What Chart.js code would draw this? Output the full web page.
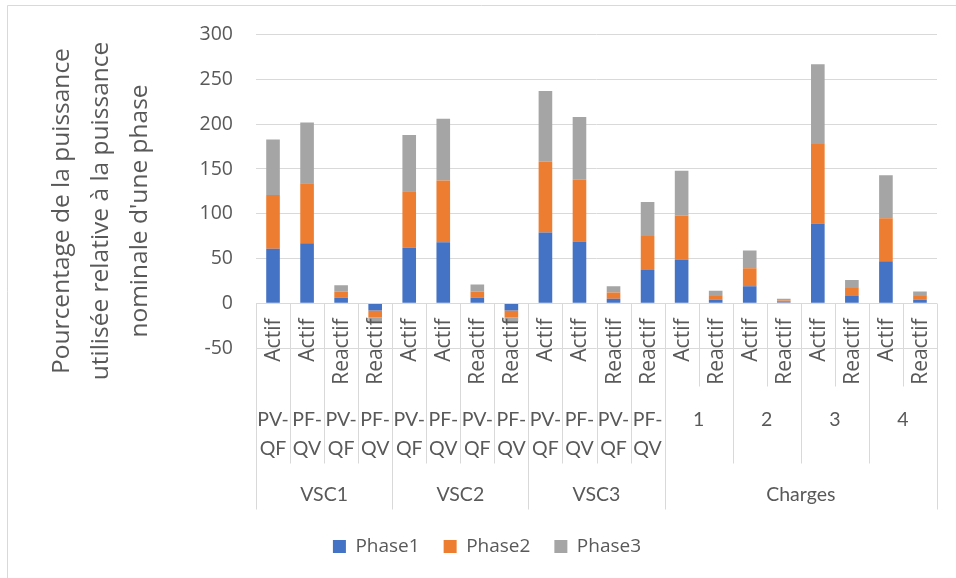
<!DOCTYPE html>
<html>
<head>
<meta charset="utf-8">
<script src="https://cdn.jsdelivr.net/npm/chart.js@4.4.1/dist/chart.umd.min.js"></script>
<style>
  html, body { margin: 0; padding: 0; background: #fff; }
  #wrap { width: 956px; height: 578px; }
</style>
</head>
<body>
<div id="wrap"><canvas id="chart" width="956" height="578"></canvas></div>
<script>
// categories (first level of the axis)
var categories = ['Actif', 'Actif', 'Reactif', 'Reactif',
  'Actif', 'Actif', 'Reactif', 'Reactif',
  'Actif', 'Actif', 'Reactif', 'Reactif',
  'Actif', 'Reactif', 'Actif', 'Reactif', 'Actif', 'Reactif', 'Actif', 'Reactif'];

// second level
var level2Labels = [['PV-', 'QF'], ['PF-', 'QV'], ['PV-', 'QF'], ['PF-', 'QV'],
  ['PV-', 'QF'], ['PF-', 'QV'], ['PV-', 'QF'], ['PF-', 'QV'],
  ['PV-', 'QF'], ['PF-', 'QV'], ['PV-', 'QF'], ['PF-', 'QV'],
  ['1'], ['2'], ['3'], ['4']];
var level2Spans = [1, 1, 1, 1, 1, 1, 1, 1, 1, 1, 1, 1, 2, 2, 2, 2];

// third level
var level3Labels = ['VSC1', 'VSC2', 'VSC3', 'Charges'];
var level3Spans = [4, 4, 4, 8];

var phase1 = [61, 67, 6, -8, 62, 68, 6, -8, 79, 69, 5, 37, 49, 4, 19, 1, 89, 8, 47, 4];
var phase2 = [60, 67, 7, -8, 63, 69, 7, -8, 79, 69, 7, 38, 49, 4, 20, 2, 89, 9, 48, 4];
var phase3 = [62, 68, 7, -6, 63, 69, 8, -5, 79, 70, 7, 38, 50, 6, 20, 2, 89, 9, 48, 5];

var yTitle = ['Pourcentage de la puissance', 'utilisée relative à la puissance', "nominale d'une phase"];

var textColor = '#595959';
var lineColor = '#d9d9d9';
var segoe = '"Open Sans", sans-serif';
var calibri = 'Lato, sans-serif';

// draws the frame, the y title and the 3-level category table
var tablePlugin = {
  id: 'table',
  beforeDraw: function(chart) {
    var ctx = chart.ctx;
    ctx.save();
    ctx.strokeStyle = lineColor;
    ctx.lineWidth = 1;
    ctx.beginPath();
    ctx.moveTo(7.5, 578);
    ctx.lineTo(7.5, 5.5);
    ctx.lineTo(956, 5.5);
    ctx.stroke();

    // y axis title
    ctx.fillStyle = textColor;
    ctx.font = '24.5px ' + segoe;
    ctx.textAlign = 'center';
    ctx.textBaseline = 'middle';
    ctx.translate(101, 211);
    ctx.rotate(-Math.PI / 2);
    for (var i = 0; i < yTitle.length; i++) {
      ctx.fillText(yTitle[i], 0, (i - 1) * 39);
    }
    ctx.restore();
  },
  afterDatasetsDraw: function(chart) {
    var ctx = chart.ctx;
    var x = chart.scales.x;
    var y = chart.scales.y;
    var area = chart.chartArea;
    var colW = (area.right - area.left) / categories.length;
    var y0 = Math.round(y.getPixelForValue(0)) + 0.5;
    var row1 = y0 + 83, row2 = y0 + 160, row3 = y0 + 206;

    function edge(i) { return Math.round(x.getPixelForValue(i) - colW / 2) + 0.5; }
    function vline(px, bottom) {
      ctx.beginPath();
      ctx.moveTo(px, y0);
      ctx.lineTo(px, bottom);
      ctx.stroke();
    }

    ctx.save();
    ctx.strokeStyle = lineColor;
    ctx.lineWidth = 1;
    ctx.beginPath();
    ctx.moveTo(area.left, y0);
    ctx.lineTo(area.right, y0);
    ctx.stroke();

    // separators, depth depends on the level they close
    var l2Edges = {}, l3Edges = {};
    var k = 0;
    level2Spans.forEach(function(s) { l2Edges[k] = true; k += s; });
    l2Edges[k] = true;
    k = 0;
    level3Spans.forEach(function(s) { l3Edges[k] = true; k += s; });
    l3Edges[k] = true;
    for (var i = 0; i <= categories.length; i++) {
      var px = i < categories.length ? edge(i) : Math.round(area.right) + 0.5;
      vline(px, l3Edges[i] ? row3 : (l2Edges[i] ? row2 : row1));
    }

    ctx.fillStyle = textColor;
    // level 1, rotated
    ctx.font = '21px ' + segoe;
    ctx.textAlign = 'right';
    ctx.textBaseline = 'middle';
    categories.forEach(function(c, i) {
      ctx.save();
      ctx.translate(x.getPixelForValue(i) + 1, y0 + 15);
      ctx.rotate(-Math.PI / 2);
      ctx.fillText(c, 0, 0);
      ctx.restore();
    });

    // level 2
    ctx.font = '19.5px ' + calibri;
    ctx.textAlign = 'center';
    var start = 0;
    level2Labels.forEach(function(lines, j) {
      var span = level2Spans[j];
      var cx = (x.getPixelForValue(start) + x.getPixelForValue(start + span - 1)) / 2;
      lines.forEach(function(t, n) {
        ctx.fillText(t, cx, y0 + 116 + n * 29);
      });
      start += span;
    });

    // level 3
    start = 0;
    level3Labels.forEach(function(t, j) {
      var span = level3Spans[j];
      var cx = (x.getPixelForValue(start) + x.getPixelForValue(start + span - 1)) / 2;
      ctx.fillText(t, cx, y0 + 191);
      start += span;
    });
    ctx.restore();
  }
};

var ctx = document.getElementById('chart').getContext('2d');
var chart = new Chart(ctx, {
  type: 'bar',
  data: {
    labels: categories,
    datasets: [
      { label: 'Phase1', data: phase1, backgroundColor: '#4472C4' },
      { label: 'Phase2', data: phase2, backgroundColor: '#ED7D31' },
      { label: 'Phase3', data: phase3, backgroundColor: '#A5A5A5' }
    ]
  },
  options: {
    responsive: false,
    animation: false,
    barPercentage: 0.4,
    categoryPercentage: 1,
    layout: { padding: { left: 37, right: 19, top: 34, bottom: 12 } },
    plugins: {
      tooltip: { enabled: false },
      legend: {
        position: 'bottom',
        labels: {
          boxWidth: 13,
          boxHeight: 13,
          padding: 24,
          color: textColor,
          font: { family: segoe, size: 19 }
        }
      }
    },
    scales: {
      x: {
        stacked: true,
        grid: { display: false },
        border: { display: false },
        ticks: { display: false },
        afterFit: function(s) { s.height = 165; }
      },
      y: {
        stacked: true,
        min: -50,
        max: 300,
        border: { display: false },
        grid: { color: lineColor, drawTicks: false },
        ticks: {
          stepSize: 50,
          padding: 23,
          color: textColor,
          font: { family: segoe, size: 19.5 }
        },
        afterFit: function(s) { s.width = 219; }
      }
    }
  },
  plugins: [tablePlugin]
});
</script>
</body>
</html>
